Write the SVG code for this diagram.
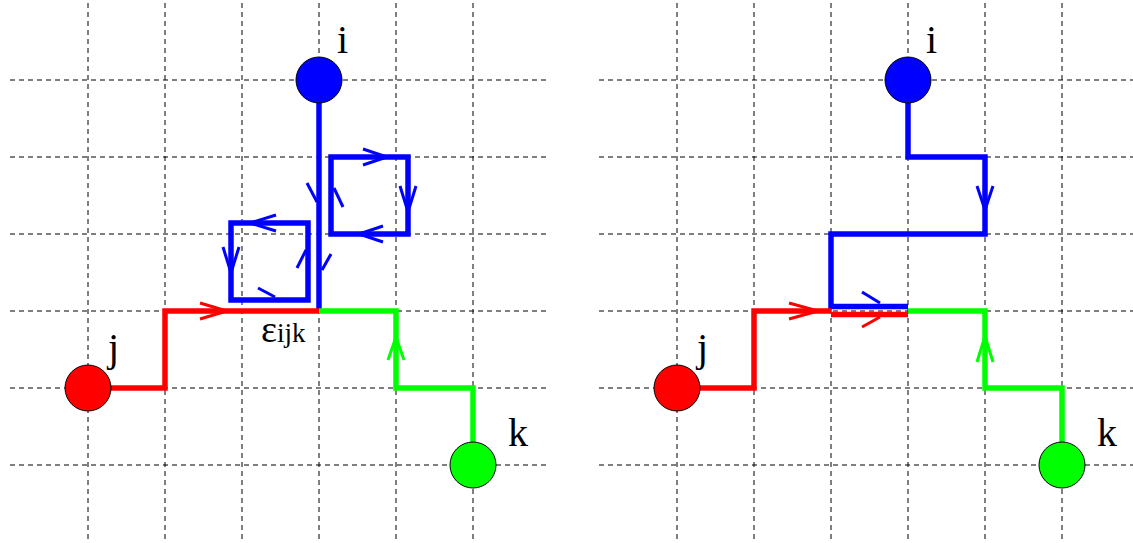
<svg xmlns="http://www.w3.org/2000/svg" width="1133" height="543" viewBox="0 0 1133 543">
<style>
.grid line{stroke:#000;stroke-width:1;stroke-dasharray:5,4}
.node{stroke:#000;stroke-width:1}
.path{fill:none;stroke-width:5.5;stroke-linejoin:miter;stroke-linecap:butt}
.arr{fill:none;stroke-width:3;stroke-linecap:butt;stroke-linejoin:miter}
.lbl{font-family:"Liberation Serif","Times New Roman",serif;font-size:40px;fill:#000}
.b{stroke:#0000ff}.r{stroke:#ff0000}.g{stroke:#00ff00}
</style>
<rect width="1133" height="543" fill="#fff"/>
<g class="grid" id="grid-left">
<line x1="10" y1="80" x2="550" y2="80"/>
<line x1="10" y1="157" x2="550" y2="157"/>
<line x1="10" y1="234" x2="550" y2="234"/>
<line x1="10" y1="311" x2="550" y2="311"/>
<line x1="10" y1="388" x2="550" y2="388"/>
<line x1="10" y1="465" x2="550" y2="465"/>
<line x1="88" y1="3" x2="88" y2="543"/>
<line x1="165" y1="3" x2="165" y2="543"/>
<line x1="242" y1="3" x2="242" y2="543"/>
<line x1="319" y1="3" x2="319" y2="543"/>
<line x1="396" y1="3" x2="396" y2="543"/>
<line x1="473" y1="3" x2="473" y2="543"/>
</g>
<g class="grid" id="grid-right">
<line x1="599" y1="80" x2="1133" y2="80"/>
<line x1="599" y1="157" x2="1133" y2="157"/>
<line x1="599" y1="234" x2="1133" y2="234"/>
<line x1="599" y1="311" x2="1133" y2="311"/>
<line x1="599" y1="388" x2="1133" y2="388"/>
<line x1="599" y1="465" x2="1133" y2="465"/>
<line x1="677" y1="3" x2="677" y2="543"/>
<line x1="754" y1="3" x2="754" y2="543"/>
<line x1="831" y1="3" x2="831" y2="543"/>
<line x1="908" y1="3" x2="908" y2="543"/>
<line x1="985" y1="3" x2="985" y2="543"/>
<line x1="1062" y1="3" x2="1062" y2="543"/>
</g>
<g id="connectors">
<!-- left panel -->
<path class="path b" d="M319,103 V311"/>
<rect class="path b" x="331" y="157" width="77" height="77"/>
<rect class="path b" x="231" y="223" width="77" height="77"/>
<path class="path r" d="M111,388 H165 V311 H319"/>
<path class="path g" d="M319,311 H396 V388 H473 V442"/>
<path class="arr r" d="M200,303 L227,311 L200,319"/>
<path class="arr g" d="M388,360 L396,337 L404,360"/>
<path class="arr b" d="M363,149 L387,157 L363,165"/>
<path class="arr b" d="M400,186 L408,212 L416,186"/>
<path class="arr b" d="M383,226 L359,234 L383,242"/>
<path class="arr b" d="M334,188 L343,207"/>
<path class="arr b" d="M307,183 L317,202"/>
<path class="arr b" d="M331,254 L322,270"/>
<path class="arr b" d="M276,215 L250,223 L276,231"/>
<path class="arr b" d="M223,247 L231,273 L239,247"/>
<path class="arr b" d="M306,250 L297,268"/>
<path class="arr b" d="M258,288 L275,297"/>
<!-- right panel -->
<path class="path b" d="M908,103 V157 H985 V234 H831 V306.5 H908"/>
<path class="path r" d="M700,388 H754 V311 H831"/>
<path class="path r" d="M831,314.5 H908"/>
<path class="path g" d="M908,311 H985 V388 H1062 V442"/>
<path class="arr b" d="M977,186 L985,210 L993,186"/>
<path class="arr b" d="M862,292 L880,303"/>
<path class="arr r" d="M789,303 L818,311 L789,319"/>
<path class="arr r" d="M862,327 L880,317"/>
<path class="arr g" d="M977,362 L985,336 L993,362"/>
</g>
<g id="node-i-left"><circle class="node" cx="319" cy="80" r="23" fill="#0000ff"/><text class="lbl" x="337" y="53">i</text></g>
<g id="node-j-left"><circle class="node" cx="88" cy="388" r="23" fill="#ff0000"/><text class="lbl" x="108" y="361">j</text></g>
<g id="node-k-left"><circle class="node" cx="473" cy="465" r="23" fill="#00ff00"/><text class="lbl" x="508" y="446">k</text></g>
<g id="label-eps"><text class="lbl" x="261" y="342"><tspan font-size="38">ε</tspan><tspan font-size="27">ijk</tspan></text></g>
<g id="node-i-right"><circle class="node" cx="908" cy="80" r="23" fill="#0000ff"/><text class="lbl" x="926" y="53">i</text></g>
<g id="node-j-right"><circle class="node" cx="677" cy="388" r="23" fill="#ff0000"/><text class="lbl" x="697" y="361">j</text></g>
<g id="node-k-right"><circle class="node" cx="1062" cy="465" r="23" fill="#00ff00"/><text class="lbl" x="1097" y="446">k</text></g>
</svg>
